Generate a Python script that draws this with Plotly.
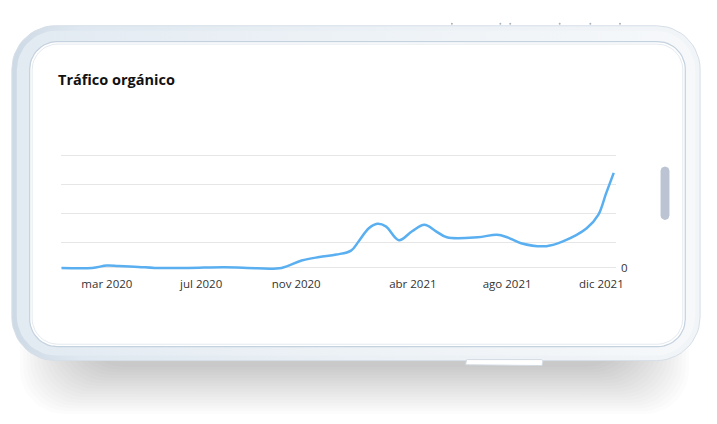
import numpy as np
import plotly.graph_objects as go

W, H = 717, 424

# ---------------- data ----------------
title_text = "Tráfico orgánico"
dates = ["2020-01-02", "2020-02-11", "2020-03-01", "2020-03-16", "2020-04-11", "2020-05-02",
         "2020-06-14", "2020-07-31", "2020-08-30", "2020-10-13", "2020-11-08", "2020-12-01",
         "2020-12-23", "2021-01-11", "2021-01-21", "2021-02-03", "2021-02-14", "2021-02-25",
         "2021-03-14", "2021-03-31", "2021-04-16", "2021-04-30", "2021-05-15", "2021-06-24",
         "2021-07-19", "2021-08-01", "2021-08-19", "2021-09-21", "2021-10-13", "2021-11-12",
         "2021-11-27", "2021-12-07", "2021-12-17"]
traffic = [0, 0, 2.5, 2, 1, 0,
           0, 0.7, 0, 0, 7.5, 11,
           13.5, 17.5, 27, 40, 44.5, 42,
           28, 37, 43.5, 37.5, 31, 31,
           33.5, 31, 25, 22, 27, 40,
           53.5, 75, 96]
tick_dates = ["2020-03-01", "2020-07-01", "2020-11-01", "2021-04-01", "2021-08-01", "2021-12-01"]
tick_labels = ["mar 2020", "jul 2020", "nov 2020", "abr 2021", "ago 2021", "dic 2021"]
grid_values = [0, 25.5, 54.5, 84, 113.5]
grid_labels = ["0", "", "", "", ""]

# ---------------- helpers (decoration geometry, pixel space) ----------------
def rrect(x0, y0, x1, y1, r, n=14):
    pts = []
    corners = [(x1 - r, y0 + r, -90, 0), (x1 - r, y1 - r, 0, 90),
               (x0 + r, y1 - r, 90, 180), (x0 + r, y0 + r, 180, 270)]
    for cx, cy, a0, a1 in corners:
        for t in np.linspace(np.radians(a0), np.radians(a1), n):
            pts.append((cx + r * np.cos(t), cy + r * np.sin(t)))
    pts.append(pts[0])
    xs, ys = zip(*pts)
    return list(xs), list(ys)


fig = go.Figure()

def deco(xs, ys, fill=None, line_color=None, line_width=0, gradient=None):
    kw = dict(x=xs, y=ys, mode="lines", xaxis="x", yaxis="y", hoverinfo="skip",
              showlegend=False, line=dict(width=line_width, color=line_color or "rgba(0,0,0,0)"))
    if fill is not None or gradient is not None:
        kw["fill"] = "toself"
        if fill is not None:
            kw["fillcolor"] = fill
        if gradient is not None:
            kw["fillgradient"] = gradient
    fig.add_trace(go.Scatter(**kw))

# soft shadow
for i in range(18):
    xs, ys = rrect(20 + i * 3.5, 300, 697 - i * 3.5, 418 - i * 2.8, 45)
    deco(xs, ys, fill="rgba(0,0,0,0.0135)")

# phone body
xs, ys = rrect(12, 26, 708, 364, 44)
deco(xs, ys, line_color="#d6dfe8", line_width=1,
     gradient=dict(type="horizontal",
                   colorscale=[[0, "#cdd9e5"], [0.1, "#dfe8f0"], [0.5, "#eaf0f5"], [1, "#f2f5f8"]]))
xs, ys = rrect(17, 31, 703, 359, 40)
deco(xs, ys, gradient=dict(type="horizontal",
                           colorscale=[[0, "#e2eaf2"], [0.5, "#edf2f6"], [1, "#f6f8fa"]]))
# screen
xs, ys = rrect(30, 42, 693, 350, 28)
deco(xs, ys, fill="#ffffff", line_color="#c4d1de", line_width=1.2)
xs, ys = rrect(32.5, 44.5, 690.5, 347.5, 26)
deco(xs, ys, line_color="#e4eaf0", line_width=1)
# scrollbar
xs, ys = rrect(668, 168, 677, 222, 4.5, n=8)
deco(xs, ys, fill="#bcc4d4")
# bottom button
xs, ys = rrect(471, 363, 549, 369, 1.5, n=4)
deco(xs, ys, fill="#ffffff", line_color="#d3dbe3", line_width=1)
# top marks (tiny dots on the upper edge)
for mx in [457, 506, 516, 566, 597, 627]:
    fig.add_shape(type="circle", xref="x", yref="y", x0=mx - 1, x1=mx + 1, y0=23, y1=25,
                  fillcolor="#aab2bb", line=dict(width=0), layer="above")

# ---------------- chart ----------------
fig.add_trace(go.Scatter(x=dates, y=traffic, mode="lines", xaxis="x2", yaxis="y2",
                         line=dict(color="#5aaff0", width=2.5, shape="spline", smoothing=1),
                         showlegend=False, hoverinfo="x+y"))

fig.add_annotation(text=title_text, xref="paper", yref="paper", x=57 / W, y=1 - 80 / H,
                   xanchor="left", yanchor="middle", showarrow=False,
                   font=dict(family="Open Sans", size=14.5, color="#111111", weight="bold"))

fig.update_layout(
    width=W, height=H, autosize=False,
    margin=dict(l=0, r=0, t=0, b=0),
    paper_bgcolor="#ffffff", plot_bgcolor="rgba(0,0,0,0)",
    showlegend=False,
    xaxis=dict(domain=[0, 1], range=[0, W], visible=False, fixedrange=True),
    yaxis=dict(domain=[0, 1], range=[H, 0], visible=False, fixedrange=True),
    xaxis2=dict(domain=[62 / W, 623 / W], anchor="y2", type="date",
                range=["2020-01-02", "2021-12-20"],
                tickvals=tick_dates, ticktext=tick_labels,
                showgrid=False, zeroline=False, showline=False, ticks="",
                ticklabelstandoff=4,
                tickfont=dict(family="Open Sans", size=11.5, color="#333333")),
    yaxis2=dict(domain=[1 - 274 / H, 1 - 147 / H], anchor="x2", side="right",
                range=[-3.5, 123.5], tickvals=grid_values, ticktext=grid_labels,
                showgrid=True, gridcolor="#e6e6e6", gridwidth=1,
                zeroline=False, showline=False, ticks="", ticklabelstandoff=4,
                tickfont=dict(family="Open Sans", size=11.5, color="#333333")),
)

fig.write_html("out.html")
